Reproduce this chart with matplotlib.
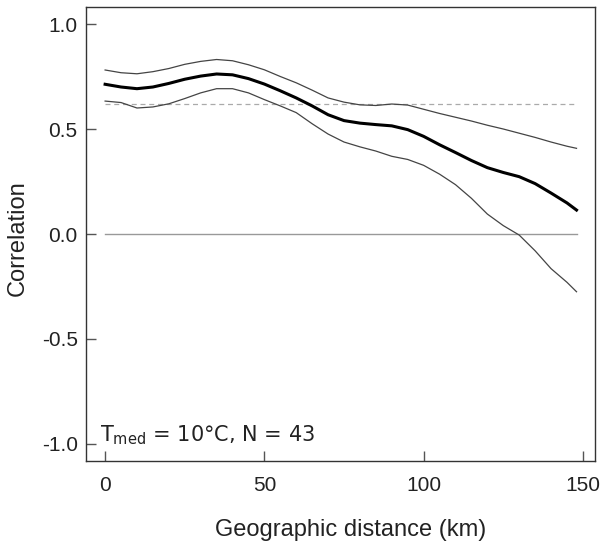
import matplotlib
matplotlib.use("Agg")
import matplotlib.pyplot as plt

distance = [0, 5, 10, 15, 20, 25, 30, 35, 40, 45, 50, 55, 60, 65, 70, 75, 80, 85,
            90, 95, 100, 105, 110, 115, 120, 125, 130, 135, 140, 145, 148]
corr_mid = [0.713, 0.700, 0.692, 0.700, 0.717, 0.737, 0.752, 0.762, 0.758, 0.740,
            0.714, 0.682, 0.648, 0.610, 0.568, 0.540, 0.528, 0.521, 0.515, 0.497,
            0.465, 0.425, 0.388, 0.350, 0.316, 0.293, 0.273, 0.240, 0.195, 0.148, 0.114]
corr_upper = [0.781, 0.768, 0.763, 0.773, 0.788, 0.808, 0.822, 0.831, 0.825, 0.806,
              0.782, 0.750, 0.720, 0.685, 0.648, 0.628, 0.615, 0.612, 0.619, 0.614,
              0.594, 0.574, 0.556, 0.538, 0.518, 0.500, 0.480, 0.460, 0.438, 0.418, 0.408]
corr_lower = [0.633, 0.626, 0.600, 0.605, 0.620, 0.645, 0.672, 0.692, 0.692, 0.672,
              0.640, 0.610, 0.578, 0.525, 0.476, 0.438, 0.415, 0.395, 0.370, 0.355,
              0.327, 0.285, 0.235, 0.170, 0.095, 0.040, -0.005, -0.080, -0.165, -0.230, -0.275]
ref_level = 0.619
x_ticks = [0, 50, 100, 150]
y_ticks = [-1.0, -0.5, 0.0, 0.5, 1.0]
y_tick_labels = ["-1.0", "-0.5", "0.0", "0.5", "1.0"]

fig = plt.figure(figsize=(6.02, 5.46), dpi=100)
ax = fig.add_axes([86/602, 1-461/546, (595-86)/602, (461-7)/546])

x_end = distance[-1]
ax.plot([0, x_end], [0.0, 0.0], color="#999999", lw=1.0, zorder=1)
ax.plot([0, x_end], [ref_level, ref_level], color="#aaaaaa", lw=0.9, ls=(0, (4, 3)), zorder=1)
ax.plot(distance, corr_upper, color="#444444", lw=0.9, zorder=2)
ax.plot(distance, corr_lower, color="#444444", lw=0.9, zorder=2)
ax.plot(distance, corr_mid, color="black", lw=2.2, zorder=3)

ax.set_xlim(-6, 153.8)
ax.set_ylim(-1.081, 1.081)
ax.set_xticks(x_ticks)
ax.set_yticks(y_ticks)
ax.set_yticklabels(y_tick_labels)

for s in ax.spines.values():
    s.set_color("#333333")
    s.set_linewidth(1.0)

font = "Liberation Sans"
ax.tick_params(direction="in", length=7, width=1, color="#555555")
ax.tick_params(axis="x", pad=11)
ax.tick_params(axis="y", pad=6)
for lab in ax.get_xticklabels() + ax.get_yticklabels():
    lab.set_fontfamily(font)
    lab.set_fontsize(15)
    lab.set_color("#222222")

ax.set_xlabel("Geographic distance (km)", fontfamily=font, fontsize=17, color="#222222")
ax.xaxis.set_label_coords(0.52, -0.128)
ax.set_ylabel("Correlation", fontfamily=font, fontsize=17, labelpad=9, color="#222222")
ax.yaxis.label.set_y(0.49)

ax.text(-1.6, -0.986, r"T$_{\rm med}$ = 10°C, N = 43", fontfamily="DejaVu Sans",
        fontsize=15, color="#222222", ha="left", va="baseline")

fig.savefig("out.png", dpi=100)
